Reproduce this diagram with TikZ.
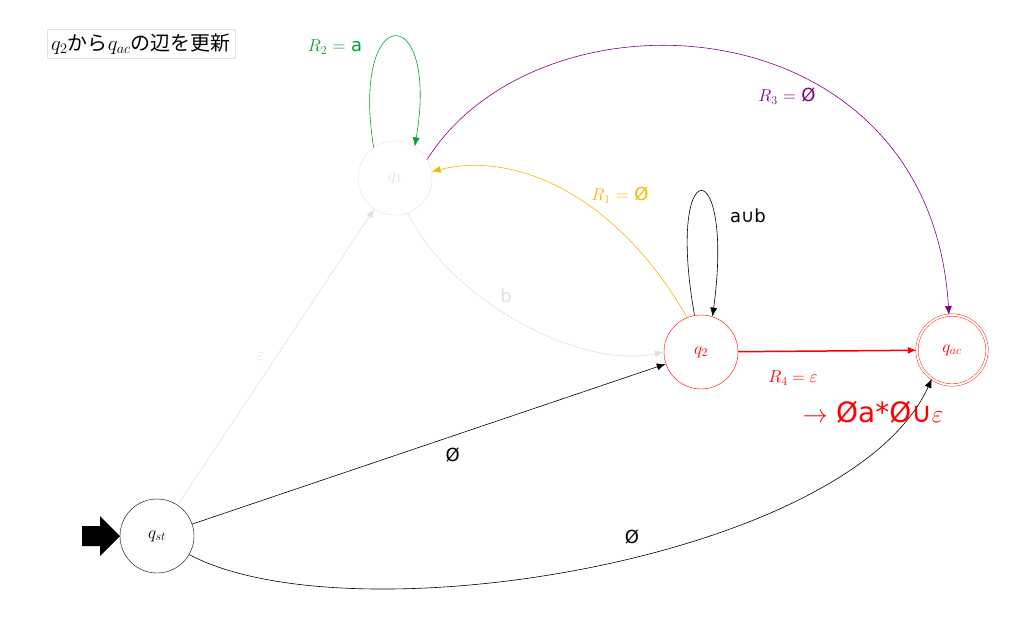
\documentclass[tikz,border=0pt]{standalone}
\usepackage{fontspec}
\newfontfamily\cjk{Noto Sans CJK JP}
\newfontfamily\dv{DejaVu Sans}
\usetikzlibrary{arrows.meta}
\definecolor{lg}{RGB}{225,225,225}
\definecolor{gr}{RGB}{0,160,50}
\definecolor{ye}{RGB}{245,185,0}
\definecolor{pu}{RGB}{128,0,128}
\begin{document}
\begin{tikzpicture}[x=1pt,y=-1pt,
  st/.style={circle,draw,minimum size=74pt,inner sep=0pt,font=\fontsize{18}{20}\selectfont},
  ed/.style={-{Latex[length=9pt,width=7pt]},line width=0.6pt},
  lb/.style={font=\fontsize{18}{20}\selectfont}]
\useasboundingbox (0,0) rectangle (1014,618);
\node[draw=lg,font=\fontsize{20}{22}\selectfont,inner sep=4pt] (t) at (141,44) {$q_2$\cjk から$q_{ac}$の辺を更新};
\node[st] (qst) at (157,536) {$q_{st}$};
\node[st,draw=lg,text=lg] (q1) at (395,178) {$q_1$};
\node[st,draw=red,text=red] (q2) at (701,352) {$q_2$};
\node[st,draw=red,text=red,double=white,double distance=2pt,minimum size=70pt] (qac) at (952,350) {$q_{ac}$};
\fill (82,526) -- (100,526) -- (100,516) -- (120,536) -- (100,556) -- (100,546) -- (82,546) -- cycle;
\coordinate (s) at (120,536);
% edges
\draw[ed,lg] (qst) -- (q1) node[lb,pos=0.5,left=8pt,text=lg] {$\varepsilon$};
\draw[ed] (qst) -- (q2) node[lb,pos=0.55,below=8pt] {\dv Ø};
\draw[ed] (qst.-30) .. controls (350,640) and (850,560) .. (qac.-125);
\node[lb] (l5) at (632,537) {\dv Ø};
\draw[ed,lg] (q1.-70) .. controls (450,300) and (580,370) .. (q2.180);
\node[lb,text=lg] (lb1) at (506,296) {\dv b};
\draw[ed,ye] (q2.112) .. controls (620,200) and (520,150) .. (q1.10);
\node[lb,text=ye] (l1) at (620,195) {$R_1$ = \dv Ø};
\draw[ed,gr] (q1.125) .. controls (350,0) and (440,0) .. (q1.58);
\node[lb,text=gr] (l2) at (335,47) {$R_2$ = \dv a};
\draw[ed,pu] (q1.30) .. controls (540,-20) and (930,0) .. (qac.95);
\node[lb,text=pu] (l3) at (787,96) {$R_3$ = \dv Ø};
\draw[ed] (q2.100) .. controls (665,150) and (735,150) .. (q2.72);
\node[lb] (l6) at (748,216) {\dv a∪b};
\draw[ed,red,line width=1.5pt] (q2) -- (qac);
\node[lb,text=red] (l4) at (793,378) {$R_4=\varepsilon$};
\node[font=\fontsize{28}{30}\selectfont,text=red] (l7) at (873,412) {$\rightarrow$ \dv Øa*Ø∪$\varepsilon$};
\end{tikzpicture}
\end{document}
